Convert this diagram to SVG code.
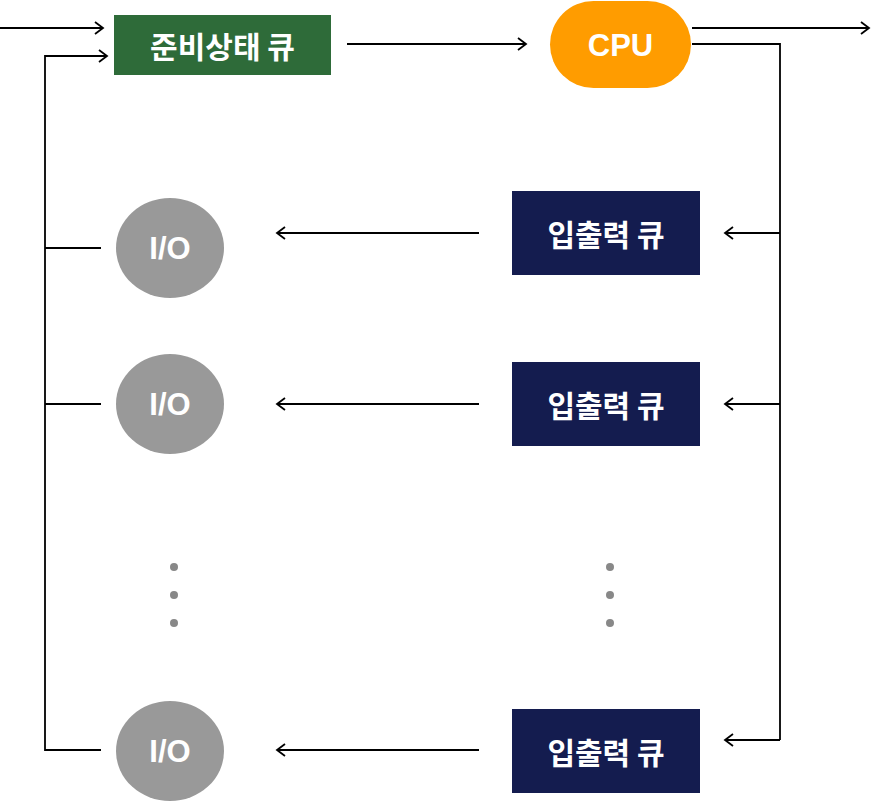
<svg xmlns="http://www.w3.org/2000/svg" width="871" height="803" viewBox="0 0 871 803">
<defs>
<style>
.ln{fill:none;stroke:#000;stroke-width:1.8}
.arr{marker-end:url(#ah)}
.kt{font-family:"Noto Sans CJK KR","Noto Sans",sans-serif;font-weight:bold;font-size:30px;fill:#fff;text-anchor:middle;dominant-baseline:central}
.et{font-family:"Liberation Sans",Arial,sans-serif;font-weight:bold;font-size:31px;fill:#fff;text-anchor:middle;dominant-baseline:central}
.io{fill:#999999}
.ioq{fill:#141c4f}
.dot{fill:#888888}
</style>
<marker id="ah" markerUnits="userSpaceOnUse" markerWidth="14" markerHeight="14" viewBox="-10 -7 12 14" refX="0" refY="0" orient="auto">
<path d="M-8,-6 L0,0 L-8,6" fill="none" stroke="#000" stroke-width="1.8"/>
</marker>
</defs>
<g id="connectors">
<path class="ln arr" d="M0,28 H103"/>
<path class="ln arr" d="M101,750 H45 V56 H107"/>
<path class="ln arr" d="M347,44 H526"/>
<path class="ln arr" d="M692,28 H869"/>
<path class="ln" d="M692,44 H780 V740"/>
<path class="ln arr" d="M780,233 H725"/>
<path class="ln arr" d="M780,404 H725"/>
<path class="ln arr" d="M780,740 H725"/>
<path class="ln arr" d="M479,233 H277"/>
<path class="ln arr" d="M479,404 H277"/>
<path class="ln arr" d="M479,750 H277"/>
<path class="ln" d="M45,248 H101"/>
<path class="ln" d="M45,404 H101"/>
</g>
<g id="ready-queue">
<rect x="114" y="15" width="217" height="60" fill="#2e6b39"/>
<text class="kt" x="222.5" y="45">준비상태 큐</text>
</g>
<g id="cpu">
<rect x="550" y="1" width="141" height="87" rx="43.5" fill="#ff9c00"/>
<text class="et" x="620.5" y="45">CPU</text>
</g>
<g id="ioq1">
<rect class="ioq" x="512" y="191" width="188" height="84"/>
<text class="kt" x="606" y="233">입출력 큐</text>
</g>
<g id="ioq2">
<rect class="ioq" x="512" y="362" width="188" height="84"/>
<text class="kt" x="606" y="404">입출력 큐</text>
</g>
<g id="ioq3">
<rect class="ioq" x="512" y="709" width="188" height="84"/>
<text class="kt" x="606" y="751">입출력 큐</text>
</g>
<g id="io1">
<ellipse class="io" cx="170" cy="248" rx="54" ry="50"/>
<text class="et" x="170" y="248">I/O</text>
</g>
<g id="io2">
<ellipse class="io" cx="170" cy="404" rx="54" ry="50"/>
<text class="et" x="170" y="404">I/O</text>
</g>
<g id="io3">
<ellipse class="io" cx="170" cy="751" rx="54" ry="50"/>
<text class="et" x="170" y="751">I/O</text>
</g>
<g id="dots-left">
<circle class="dot" cx="174" cy="567" r="4"/>
<circle class="dot" cx="174" cy="595" r="4"/>
<circle class="dot" cx="174" cy="623" r="4"/>
</g>
<g id="dots-right">
<circle class="dot" cx="610" cy="567" r="4"/>
<circle class="dot" cx="610" cy="595" r="4"/>
<circle class="dot" cx="610" cy="623" r="4"/>
</g>
</svg>
